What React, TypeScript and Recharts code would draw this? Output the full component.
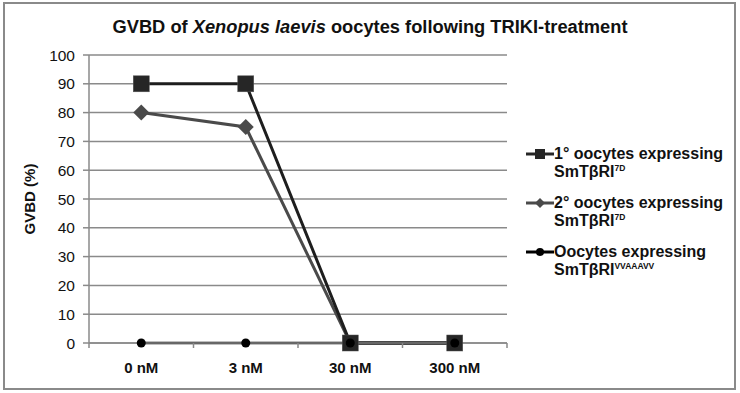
import { LineChart, Line, XAxis, YAxis, CartesianGrid } from 'recharts'

const concentrations = ['0 nM', '3 nM', '30 nM', '300 nM']
const primaryOocytes = [90, 90, 0, 0]
const secondaryOocytes = [80, 75, 0, 0]
const controlOocytes = [0, 0, 0, 0]
const yTicks = [0, 10, 20, 30, 40, 50, 60, 70, 80, 90, 100]

const FONT = '"Liberation Sans", Arial, sans-serif'
const W = 740
const H = 393
const MARGIN = { top: 55, right: 233, bottom: 0, left: 0 }
const Y_WIDTH = 89
const BAND = (W - MARGIN.right - MARGIN.left - Y_WIDTH) / concentrations.length

const data = concentrations.map((dose, i) => ({
  dose,
  primary: primaryOocytes[i],
  secondary: secondaryOocytes[i],
  control: controlOocytes[i],
}))

const squareDot = (p: any) => (
  <rect key={`sq-${p.index}`} x={p.cx - 8} y={p.cy - 8} width={16} height={16} fill='#262626' stroke='#555' strokeWidth={0.5} />
)
const diamondDot = (p: any) => (
  <polygon
    key={`dm-${p.index}`}
    points={`${p.cx},${p.cy - 8} ${p.cx + 8},${p.cy} ${p.cx},${p.cy + 8} ${p.cx - 8},${p.cy}`}
    fill='#4a4a4a'
  />
)
const circleDot = (p: any) => <circle key={`ci-${p.index}`} cx={p.cx} cy={p.cy} r={4.5} fill='#000' />

const XTick = ({ x, y, payload, index }: any) => (
  <g>
    <line x1={x + BAND / 2} x2={x + BAND / 2} y1={y} y2={y + 5} stroke='#888' strokeWidth={1.5} />
    {index === 0 && <line x1={x - BAND / 2} x2={x - BAND / 2} y1={y} y2={y + 5} stroke='#888' strokeWidth={1.5} />}
    <text x={x} y={y + 30} textAnchor='middle' fontFamily={FONT} fontWeight='bold' fontSize={15} fill='#111'>
      {payload.value}
    </text>
  </g>
)

const legendItems = [
  { name: '1° oocytes expressing', sup: '7D', color: '#262626', marker: 'square' },
  { name: '2° oocytes expressing', sup: '7D', color: '#4a4a4a', marker: 'diamond' },
  { name: 'Oocytes expressing', sup: 'VVAAAVV', color: '#000', marker: 'circle' },
]

function Marker({ type, color }: { type: string; color: string }) {
  return (
    <svg width={28} height={12} style={{ display: 'block' }}>
      <line x1={0} x2={28} y1={6} y2={6} stroke={color} strokeWidth={3} />
      {type === 'square' && <rect x={9} y={1} width={10} height={10} fill={color} />}
      {type === 'diamond' && <polygon points='14,1 19,6 14,11 9,6' fill={color} />}
      {type === 'circle' && <circle cx={14} cy={6} r={4} fill={color} />}
    </svg>
  )
}

export default function App() {
  return (
    <div style={{ position: 'absolute', left: 0, top: 0, width: W, height: H, background: '#fff', fontFamily: FONT }}>
      <div style={{ position: 'absolute', left: 3, top: 2, width: 729, height: 384, border: '2px solid #8a8a8a' }} />
      <div
        style={{
          position: 'absolute', left: 0, top: 16, width: W, textAlign: 'center',
          fontWeight: 'bold', fontSize: 18.3, color: '#111',
        }}
      >
        GVBD of <i>Xenopus laevis</i> oocytes following TRIKI-treatment
      </div>
      <LineChart width={W} height={H} data={data} margin={MARGIN} style={{ position: 'absolute', left: 0, top: 0 }}>
        <CartesianGrid vertical={false} stroke='#8a8a8a' strokeWidth={1.5} />
        <XAxis
          dataKey='dose'
          height={50}
          stroke='#8a8a8a'
          strokeWidth={1.5}
          tickLine={false}
          tickSize={0}
          tickMargin={0}
          tick={<XTick />}
          interval={0}
          padding={{ left: BAND / 2, right: BAND / 2 }}
        />
        <YAxis
          width={Y_WIDTH}
          domain={[0, 100]}
          ticks={yTicks}
          interval={0}
          stroke='#8a8a8a'
          strokeWidth={1.5}
          tickSize={6}
          tickMargin={8}
          tick={{ fontFamily: FONT, fontSize: 15.5, fill: '#111' }}
          label={{
            value: 'GVBD (%)', angle: -90, position: 'insideLeft', offset: 30,
            style: { fontFamily: FONT, fontWeight: 'bold', fontSize: 15, fill: '#111', textAnchor: 'middle' },
          }}
        />
        <Line dataKey='secondary' stroke='#4a4a4a' strokeWidth={3} dot={diamondDot} isAnimationActive={false} />
        <Line dataKey='primary' stroke='#1e1e1e' strokeWidth={3} dot={squareDot} isAnimationActive={false} />
        <Line dataKey='control' stroke='#000' strokeWidth={2.5} dot={circleDot} isAnimationActive={false} />
      </LineChart>
      <div style={{ position: 'absolute', left: 526, top: 145, width: 212 }}>
        {legendItems.map((it, i) => (
          <div key={i} style={{ display: 'flex', alignItems: 'flex-start', marginBottom: 11, fontWeight: 'bold', fontSize: 16, color: '#111', lineHeight: '18px' }}>
            <div style={{ paddingTop: 3 }}>
              <Marker type={it.marker} color={it.color} />
            </div>
            <div>
              <div>{it.name}</div>
              <div>
                SmTβRI<span style={{ fontSize: 8.5, position: 'relative', top: -6 }}>{it.sup}</span>
              </div>
            </div>
          </div>
        ))}
      </div>
    </div>
  )
}
